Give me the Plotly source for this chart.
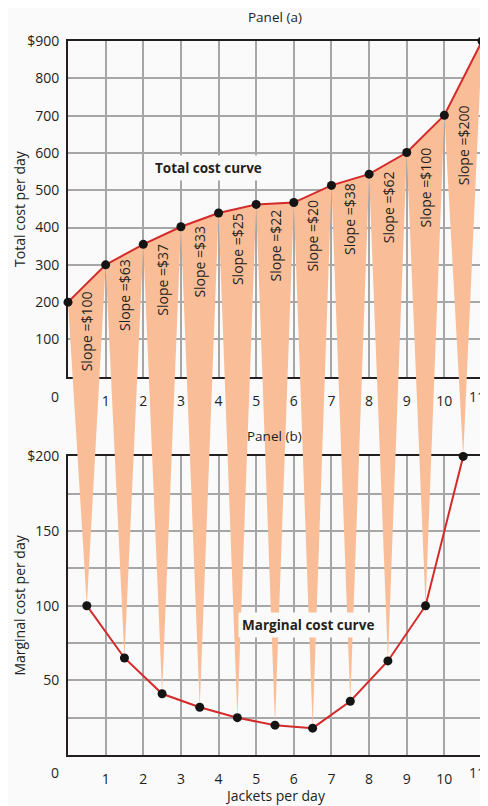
import plotly.graph_objects as go

# ---------------- data ----------------
quantity = list(range(0, 12))                       # jackets per day
total_cost = [200, 300, 355, 402, 439, 462, 467, 513, 543, 601, 701, 900]
mc_quantity = [0.5, 1.5, 2.5, 3.5, 4.5, 5.5, 6.5, 7.5, 8.5, 9.5, 10.5]
marginal_cost = [100, 65, 41, 32, 25, 20, 18, 36, 63, 100, 200]
slope_labels = ["$100", "$63", "$37", "$33", "$25", "$22", "$20", "$38", "$62", "$100", "$200"]
tc_ticks = [100, 200, 300, 400, 500, 600, 700, 800, 900]
tc_ticktext = ["100", "200", "300", "400", "500", "600", "700", "800", "$900"]
mc_ticks = [25, 50, 75, 100, 125, 150, 175, 200]
mc_ticktext = ["", "50", "", "100", "", "150", "", "$200"]
x_ticks = list(range(1, 12))
x_ticktext = [str(v) for v in x_ticks[:-1]] + [""]   # last label ("11") placed by hand at the edge

# ---------------- layout geometry ----------------
# the page body adds an 8px margin; positions below are given in window pixels
OFF = 8
WIN_W, WIN_H = 488, 806
W, H = WIN_W - OFF, WIN_H - OFF
LEFT_PX, RIGHT_PX, TOP_PX, BOTTOM_PX = 68, 482, 41, 755.5
L, T = LEFT_PX - OFF, TOP_PX - OFF
R = W - (RIGHT_PX - OFF)
B = H - (BOTTOM_PX - OFF)
plot_h = BOTTOM_PX - TOP_PX
plot_w = RIGHT_PX - LEFT_PX

def py(px):               # window pixel row -> paper y
    return (BOTTOM_PX - px) / plot_h
def px_x(px):             # window pixel column -> paper x
    return (px - LEFT_PX) / plot_w

dom_a = [py(377), 1.0]
dom_b = [0.0, py(456.7)]
TC_MAX, MC_MAX = 900, 200

def tc_p(v):
    return dom_a[0] + v / TC_MAX * (dom_a[1] - dom_a[0])
def mc_p(v):
    return dom_b[0] + v / MC_MAX * (dom_b[1] - dom_b[0])

BG = "#fafafa"
INK = "#231f20"
GRID = "#a6a6a6"
WEDGE = "#f9be97"
RED = "#d42a2a"
FONT = "Open Sans"

fig = go.Figure()

# invisible carrier traces for the two panels
fig.add_trace(go.Scatter(x=quantity, y=total_cost, mode="markers", marker=dict(opacity=0),
                         hoverinfo="skip", showlegend=False, xaxis="x", yaxis="y"))
fig.add_trace(go.Scatter(x=mc_quantity, y=marginal_cost, mode="markers", marker=dict(opacity=0),
                         hoverinfo="skip", showlegend=False, xaxis="x2", yaxis="y2"))

# wedges (overlay spanning both panels)
for i in range(len(mc_quantity)):
    xs = [quantity[i], quantity[i + 1], mc_quantity[i], quantity[i]]
    ys = [tc_p(total_cost[i]), tc_p(total_cost[i + 1]), mc_p(marginal_cost[i]), tc_p(total_cost[i])]
    fig.add_trace(go.Scatter(x=xs, y=ys, mode="lines", fill="toself", fillcolor=WEDGE,
                             line=dict(width=0, color=WEDGE), hoverinfo="skip",
                             showlegend=False, xaxis="x3", yaxis="y3"))

# curves
fig.add_trace(go.Scatter(x=quantity, y=[tc_p(v) for v in total_cost], mode="lines+markers",
                         line=dict(color=RED, width=2), marker=dict(color="#141414", size=9),
                         cliponaxis=False, showlegend=False, xaxis="x3", yaxis="y3"))
fig.add_trace(go.Scatter(x=mc_quantity, y=[mc_p(v) for v in marginal_cost], mode="lines+markers",
                         line=dict(color=RED, width=2), marker=dict(color="#141414", size=9),
                         cliponaxis=False, showlegend=False, xaxis="x3", yaxis="y3"))

axis_common = dict(showline=True, linecolor=INK, linewidth=2, mirror=True, automargin=False,
                   showgrid=True, gridcolor=GRID, gridwidth=2, zeroline=False, ticks="",
                   ticklabeloverflow="allow",
                   tickfont=dict(family=FONT, size=14, color=INK))

def paper_text(text, x_px, y_px, size=14, angle=0, xanchor="center"):
    return dict(x=px_x(x_px), y=py(y_px), xref="paper", yref="paper", text=text,
                xanchor=xanchor, yanchor="middle", textangle=angle, showarrow=False,
                font=dict(family=FONT, size=size, color=INK))

annotations = []
# slope labels
label_shift = [-48, -40, -44, -42, -40, -42, -42, -39, -44, -54, -67]
for i, lab in enumerate(slope_labels):
    annotations.append(dict(x=mc_quantity[i], y=(total_cost[i] + total_cost[i + 1]) / 2,
                            xref="x", yref="y", text="Slope =" + lab, textangle=-90,
                            xanchor="center", yanchor="middle",
                            showarrow=False, yshift=label_shift[i],
                            font=dict(family=FONT, size=14, color=INK)))
annotations += [
    dict(x=3.72, y=559, xref="x", yref="y", text="<b>Total cost curve</b>", showarrow=False,
         xanchor="center", yanchor="middle",
         bgcolor=BG, borderpad=3, font=dict(family=FONT, size=13.5, color=INK)),
    dict(x=6.38, y=87.3, xref="x2", yref="y2", text="<b>Marginal cost curve</b>", showarrow=False,
         xanchor="center", yanchor="middle",
         bgcolor=BG, borderpad=3, font=dict(family=FONT, size=13.5, color=INK)),
    paper_text("Panel (a)", 275, 16.5, 13.5),
    paper_text("Panel (b)", 274.5, 436.7, 13.5),
    paper_text("Jackets per day", 275, 796, 14),
    paper_text("Total cost per day", 20, 209, 14, -90),
    paper_text("Marginal cost per day", 20, 606, 14, -90),
    paper_text("0", 55, 397, 14),
    paper_text("0", 55, 773, 14),
    paper_text(str(x_ticks[-1]), 487, 397, 14, xanchor="right"),
    paper_text(str(x_ticks[-1]), 487, 773, 14, xanchor="right"),
]

fig.update_layout(
    width=W, height=H,
    margin=dict(l=L, r=R, t=T, b=B, autoexpand=False),
    paper_bgcolor=BG, plot_bgcolor="rgba(0,0,0,0)",
    showlegend=False,
    xaxis=dict(domain=[0, 1], range=[0, 11], anchor="y", tickvals=x_ticks, ticktext=x_ticktext,
               ticklabelstandoff=10, **axis_common),
    yaxis=dict(domain=dom_a, range=[0, TC_MAX], anchor="x", tickvals=tc_ticks, ticktext=tc_ticktext,
               ticklabelstandoff=4, **axis_common),
    xaxis2=dict(domain=[0, 1], range=[0, 11], anchor="y2", tickvals=x_ticks, ticktext=x_ticktext,
                ticklabelstandoff=10, **axis_common),
    yaxis2=dict(domain=dom_b, range=[0, MC_MAX], anchor="x2", tickvals=mc_ticks, ticktext=mc_ticktext,
                ticklabelstandoff=4, **axis_common),
    xaxis3=dict(domain=[0, 1], range=[0, 11], anchor="y3", visible=False, fixedrange=True,
                automargin=False),
    yaxis3=dict(domain=[0, 1], range=[0, 1], anchor="x3", visible=False, fixedrange=True,
                automargin=False),
    annotations=annotations,
)

fig.write_html("out.html")
